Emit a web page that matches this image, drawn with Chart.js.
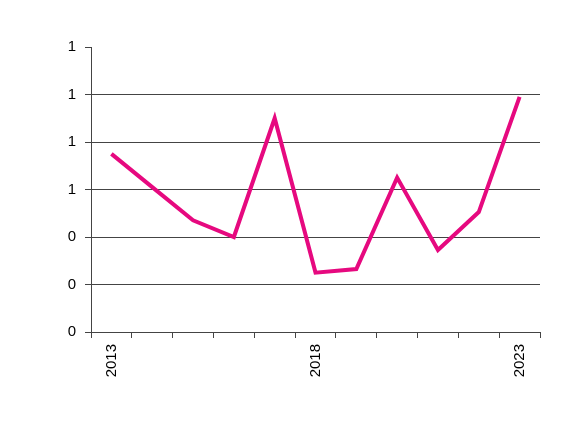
<!DOCTYPE html>
<html>
<head>
<meta charset="utf-8">
<script src="https://cdn.jsdelivr.net/npm/chart.js@4"></script>
<style>
  html, body { margin: 0; padding: 0; background: #fff; }
  canvas { display: block; }
</style>
</head>
<body>
<canvas id="chart" width="564" height="422"></canvas>
<script>
// data
const years = ['2013', '2014', '2015', '2016', '2017', '2018', '2019', '2020', '2021', '2022', '2023'];
const values = [0.75, 0.61, 0.47, 0.40, 0.90, 0.25, 0.265, 0.65, 0.345, 0.505, 0.99];
const shownYears = ['2013', '2018', '2023'];
const yMax = 1.2;
const yStep = 0.2;

const font = { family: '"Liberation Sans", Arial, sans-serif', size: 15 };

new Chart(document.getElementById('chart').getContext('2d'), {
  type: 'line',
  data: {
    labels: years,
    datasets: [{
      data: values,
      borderColor: '#E6097F',
      borderWidth: 4,
      pointRadius: 0,
      tension: 0,
      fill: false
    }]
  },
  options: {
    responsive: false,
    animation: false,
    devicePixelRatio: 1,
    layout: { padding: { top: 47, right: 24, left: 0, bottom: 0 } },
    plugins: { legend: { display: false }, tooltip: { enabled: false } },
    scales: {
      x: {
        offset: true,
        grid: {
          offset: true,
          drawOnChartArea: false,
          drawTicks: true,
          tickLength: 6,
          color: '#444'
        },
        border: { color: '#444', width: 1 },
        ticks: {
          autoSkip: false,
          maxRotation: 90,
          minRotation: 90,
          padding: 6,
          color: '#000',
          font: font,
          callback: function (v, i) {
            const y = this.getLabelForValue(v);
            return shownYears.includes(y) ? y : '';
          }
        },
        afterFit: s => { s.height = 90; }
      },
      y: {
        min: 0,
        max: yMax,
        grid: {
          color: c => (c.tick && c.tick.value >= yMax - 1e-9) ? 'rgba(0,0,0,0)' : '#444',
          tickColor: '#444',
          tickLength: 6,
          lineWidth: 1
        },
        border: { color: '#444', width: 1 },
        ticks: {
          stepSize: yStep,
          padding: 9,
          color: '#000',
          font: font,
          callback: v => Math.round(v)
        },
        afterFit: s => { s.width = 91; }
      }
    }
  }
});
</script>
</body>
</html>
